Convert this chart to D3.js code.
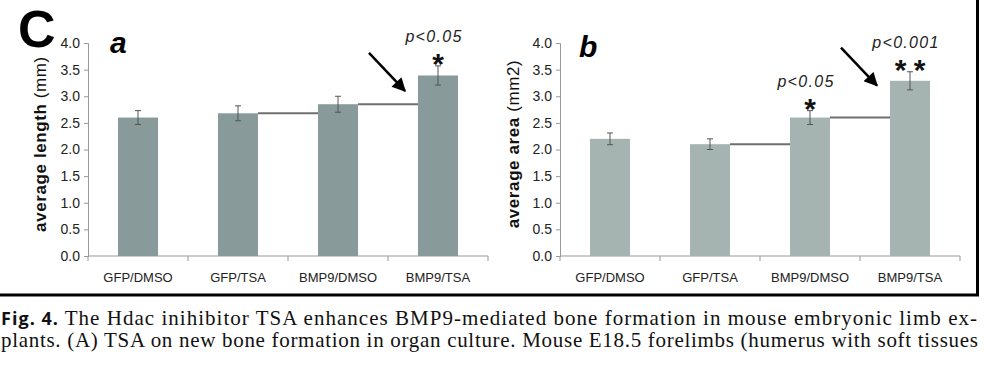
<!DOCTYPE html>
<html>
<head>
<meta charset="utf-8">
<script src="https://cdn.jsdelivr.net/npm/d3@7"></script>
<style>
  body { margin: 0; background: #fff; }
  svg { display: block; }
  .sans { font-family: "Liberation Sans", Arial, Helvetica, sans-serif; }
  .serif { font-family: "Liberation Serif", "Times New Roman", serif; }
</style>
</head>
<body>
<div id="fig"></div>
<script>
var categories = ["GFP/DMSO", "GFP/TSA", "BMP9/DMSO", "BMP9/TSA"];
var yTicks = [0, 0.5, 1.0, 1.5, 2.0, 2.5, 3.0, 3.5, 4.0];

// panel a: average length (mm)
var lengthMeans = [2.6, 2.68, 2.85, 3.39];
var lengthErrors = [0.13, 0.14, 0.15, 0.18];
var lengthLinks = [1, 2];            // bar index whose level is carried to the next bar
var lengthSig = [{ i: 3, p: "p<0.05", stars: 1 }];

// panel b: average area (mm2)
var areaMeans = [2.2, 2.1, 2.6, 3.29];
var areaErrors = [0.11, 0.1, 0.13, 0.17];
var areaLinks = [1, 2];
var areaSig = [{ i: 2, p: "p<0.05", stars: 1 }, { i: 3, p: "p<0.001", stars: 2 }];

var captionLines = [
    "The Hdac inihibitor TSA enhances BMP9-mediated bone formation in mouse embryonic limb ex-",
    "plants. (A) TSA on new bone formation in organ culture. Mouse E18.5 forelimbs (humerus with soft tissues"
];

var width = 984, height = 367;

var svg = d3.select("#fig").append("svg")
    .attr("width", width)
    .attr("height", height)
    .attr("class", "sans")
    .style("background", "#fff");

var defs = svg.append("defs");
defs.append("marker")
    .attr("id", "arrowhead")
    .attr("viewBox", "0 0 10 10")
    .attr("refX", 9)
    .attr("refY", 5)
    .attr("markerWidth", 6)
    .attr("markerHeight", 5.5)
    .attr("markerUnits", "strokeWidth")
    .attr("orient", "auto")
  .append("path")
    .attr("d", "M0,0 L10,5 L0,10 z")
    .attr("fill", "#000");

//frame round the figure
svg.append("line")
    .attr("x1", 977.5).attr("x2", 977.5)
    .attr("y1", 0).attr("y2", 296)
    .attr("stroke", "#000").attr("stroke-width", 3);
svg.append("line")
    .attr("x1", 0).attr("x2", 979)
    .attr("y1", 295).attr("y2", 295)
    .attr("stroke", "#000").attr("stroke-width", 3);

svg.append("text")
    .text("C")
    .attr("x", 18)
    .attr("y", 47)
    .style("font-weight", "bold")
    .style("font-size", "52px")
    .attr("fill", "#000");

function drawPanel(p) {
    var g = svg.append("g");

    var x = d3.scaleBand()
        .domain(categories)
        .range([p.left, p.left + 400])
        .paddingInner(0.6)
        .paddingOuter(0.3);

    var y = d3.scaleLinear().domain([0, 4]).range([256, 43]);

    //axes
    var yAxis = d3.axisLeft(y)
        .tickValues(yTicks)
        .tickFormat(d3.format(".1f"))
        .tickSize(4)
        .tickPadding(4);

    var ya = g.append("g")
        .attr("transform", "translate(" + p.left + ",0)")
        .call(yAxis);
    ya.attr("font-family", null).attr("font-size", null);
    ya.select(".domain").attr("stroke", "#999");
    ya.selectAll(".tick line").attr("stroke", "#999");
    ya.selectAll(".tick text")
        .style("font-size", "14px")
        .attr("fill", "#222");

    var xa = g.append("g")
        .attr("transform", "translate(0," + y(0) + ")");
    xa.append("line")
        .attr("x1", p.left).attr("x2", p.left + 400)
        .attr("stroke", "#999");
    var bounds = categories.map(function(c) { return x(c) - x.step() * x.paddingOuter(); });
    bounds.push(p.left + 400);
    xa.selectAll("line.tick")
        .data(bounds)
        .enter()
        .append("line")
        .attr("class", "tick")
        .attr("x1", function(d) { return d; })
        .attr("x2", function(d) { return d; })
        .attr("y1", 0).attr("y2", 5)
        .attr("stroke", "#999");
    xa.selectAll("text")
        .data(categories)
        .enter()
        .append("text")
        .text(function(d) { return d; })
        .attr("x", function(d) { return x(d) + x.bandwidth() / 2; })
        .attr("y", 26)
        .attr("text-anchor", "middle")
        .style("font-size", "13px")
        .attr("fill", "#222");

    //bars
    g.selectAll("rect.bar")
        .data(p.means)
        .enter()
        .append("rect")
        .attr("class", "bar")
        .attr("x", function(d, i) { return x(categories[i]); })
        .attr("width", x.bandwidth())
        .attr("y", function(d) { return y(d); })
        .attr("height", function(d) { return y(0) - y(d); })
        .attr("fill", p.color);

    //level lines carried to the next bar
    g.selectAll("line.link")
        .data(p.links)
        .enter()
        .append("line")
        .attr("class", "link")
        .attr("x1", function(i) { return x(categories[i]) + x.bandwidth(); })
        .attr("x2", function(i) { return x(categories[i + 1]); })
        .attr("y1", function(i) { return y(p.means[i]); })
        .attr("y2", function(i) { return y(p.means[i]); })
        .attr("stroke", "#6f6f6f")
        .attr("stroke-width", 2);

    //error bars
    var eb = g.selectAll("g.err")
        .data(p.means)
        .enter()
        .append("g")
        .attr("class", "err")
        .attr("stroke", "#555")
        .attr("stroke-width", 1);
    eb.append("line")
        .attr("x1", function(d, i) { return x(categories[i]) + x.bandwidth() / 2; })
        .attr("x2", function(d, i) { return x(categories[i]) + x.bandwidth() / 2; })
        .attr("y1", function(d, i) { return y(d + p.errors[i]); })
        .attr("y2", function(d, i) { return y(d - p.errors[i]); });
    [1, -1].forEach(function(s) {
        eb.append("line")
            .attr("x1", function(d, i) { return x(categories[i]) + x.bandwidth() / 2 - 3; })
            .attr("x2", function(d, i) { return x(categories[i]) + x.bandwidth() / 2 + 3; })
            .attr("y1", function(d, i) { return y(d + s * p.errors[i]); })
            .attr("y2", function(d, i) { return y(d + s * p.errors[i]); });
    });

    //significance marks
    p.sig.forEach(function(s) {
        var cx = x(categories[s.i]) + x.bandwidth() / 2;
        var top = y(p.means[s.i] + p.errors[s.i]);
        g.append("text")
            .text(s.p)
            .attr("x", cx - 4)
            .attr("y", top - 24)
            .attr("text-anchor", "middle")
            .style("font-style", "italic")
            .style("font-size", "16px")
            .style("letter-spacing", "1.3px")
            .attr("fill", "#222");
        for (var k = 0; k < s.stars; k++) {
            g.append("text")
                .text("*")
                .attr("x", cx + (k - (s.stars - 1) / 2) * 19)
                .attr("y", top + 8)
                .attr("text-anchor", "middle")
                .style("font-weight", "bold")
                .style("font-size", "30px")
                .attr("fill", "#111");
        }
    });

    //arrow to the BMP9/TSA bar
    var ax = x(categories[3]) - x.step() * x.paddingOuter() + 17;
    var ay = y(p.arrowAt);
    g.append("line")
        .attr("x1", ax - 36).attr("y1", ay - 38)
        .attr("x2", ax).attr("y2", ay)
        .attr("stroke", "#000")
        .attr("stroke-width", 2.5)
        .attr("marker-end", "url(#arrowhead)");

    //panel letter
    g.append("text")
        .text(p.letter)
        .attr("x", p.left + p.letterDx)
        .attr("y", p.letterY)
        .style("font-weight", "bold")
        .style("font-style", "italic")
        .style("font-size", "30px")
        .attr("fill", "#000");

    //y title
    var yt = g.append("text")
        .attr("transform", "translate(" + (p.left - p.titleDx) + ",144) rotate(-90)")
        .attr("text-anchor", "middle")
        .style("font-size", "17px")
        .style("letter-spacing", "0.6px")
        .attr("fill", "#111");
    yt.append("tspan").style("font-weight", "bold").text(p.titleBold + " ");
    yt.append("tspan").text(p.titleUnit);
}

drawPanel({
    left: 88, means: lengthMeans, errors: lengthErrors, links: lengthLinks, sig: lengthSig,
    color: "#889a9a", arrowAt: 3.1, letter: "a", letterDx: 22, letterY: 53,
    titleBold: "average length", titleUnit: "(mm)", titleDx: 42
});

drawPanel({
    left: 560, means: areaMeans, errors: areaErrors, links: areaLinks, sig: areaSig,
    color: "#a5b4b1", arrowAt: 3.2, letter: "b", letterDx: 19, letterY: 57,
    titleBold: "average area", titleUnit: "(mm2)", titleDx: 41
});

//caption
var cap = svg.append("g")
    .attr("class", "serif")
    .style("font-size", "21px")
    .attr("fill", "#111");

var l1 = cap.append("text")
    .attr("x", 1)
    .attr("y", 325)
    .attr("textLength", 976)
    .attr("lengthAdjust", "spacing");
l1.append("tspan")
    .style("font-family", "'Open Sans', sans-serif")
    .style("font-weight", "bold")
    .style("font-size", "18px")
    .text("Fig. 4. ");
l1.append("tspan").text(captionLines[0]);

cap.append("text")
    .attr("x", 1)
    .attr("y", 347)
    .attr("textLength", 977)
    .attr("lengthAdjust", "spacing")
    .text(captionLines[1]);
</script>
</body>
</html>
